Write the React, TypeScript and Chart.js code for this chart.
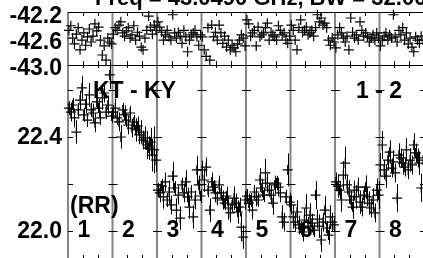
import React, { useEffect, useRef } from "react";
import { Chart, registerables } from "chart.js";

Chart.register(...registerables);

const titleText = "Freq = 43.0490 GHz, BW = 32.00 MHz";
const segmentLabels = ["1", "2", "3", "4", "5", "6", "7", "8"];
const baselineLeft = "KT - KY";
const baselineRight = "1 - 2";
const polLabel = "(RR)";
const topTickValues = [-42.2, -42.6, -43.0];
const topTickLabels = ["-42.2", "-42.6", "-43.0"];
const botTickValues = [22.0, 22.2, 22.4, 22.6];
const botTickLabels = ["22.0", "", "22.4", ""];

// Upper panel per segment
const top1 = [-42.42, -42.35, -42.54, -42.63, -42.48, -42.38, -42.72, -42.57, -42.46, -42.65, -42.52, -42.40, -42.60, -42.51, -42.32, -42.43, -42.37, -42.57, -42.80, -42.66, -42.88, -42.54, -42.60, -42.63];
const top2 = [-42.48, -42.38, -42.42, -42.34, -42.29, -42.46, -42.51, -42.43, -42.38, -42.54, -42.49, -42.35, -42.57, -42.45, -42.51, -42.68, -42.72, -42.54, -42.42, -42.20, -42.37, -42.48, -42.34, -42.42];
const top3 = [-42.29, -42.37, -42.45, -42.57, -42.49, -42.42, -42.52, -42.57, -42.18, -42.46, -42.54, -42.45, -42.51, -42.62, -42.42, -42.52, -42.75, -42.57, -42.49, -42.46, -42.42, -42.52, -42.65, -42.49];
const top4 = [-42.52, -42.72, -42.82, -42.38, -42.88, -42.34, -42.52, -42.45, -42.57, -42.34, -42.46, -42.62, -42.51, -42.68, -42.57, -42.72, -42.65, -42.69, -42.75, -42.63, -42.57, -42.49, -42.54, -42.66];
const top5 = [-42.26, -42.32, -42.51, -42.46, -42.42, -42.66, -42.37, -42.52, -42.49, -42.46, -42.38, -42.31, -42.57, -42.45, -42.49, -42.52, -42.57, -42.35, -42.42, -42.49, -42.46, -42.57, -42.62, -42.51];
const top6 = [-42.34, -42.42, -42.57, -42.72, -42.38, -42.26, -42.45, -42.42, -42.37, -42.49, -42.46, -42.42, -42.51, -42.38, -42.18, -42.29, -42.23, -42.34, -42.31, -42.38, -42.57, -42.65, -42.54, -42.60];
const top7 = [-42.69, -42.49, -42.38, -42.46, -42.54, -42.60, -42.51, -42.72, -42.23, -42.45, -42.54, -42.49, -42.57, -42.29, -42.42, -42.51, -42.46, -42.52, -42.60, -42.54, -42.49, -42.57, -42.46, -42.54];
const top8 = [-42.66, -42.57, -42.51, -42.46, -42.57, -42.49, -42.54, -42.18, -42.52, -42.60, -42.42, -42.49, -42.38, -42.57, -42.46, -42.63, -42.54, -42.68, -42.75, -42.52, -42.57, -42.62, -42.51, -42.57];

// Lower panel per segment
const bot1 = [22.523, 22.506, 22.536, 22.481, 22.421, 22.515, 22.557, 22.609, 22.494, 22.540, 22.472, 22.579, 22.515, 22.502, 22.460, 22.549, 22.523, 22.481, 22.566, 22.587, 22.506, 22.536, 22.664, 22.489];
const bot2 = [22.506, 22.523, 22.481, 22.464, 22.400, 22.515, 22.494, 22.472, 22.451, 22.502, 22.438, 22.464, 22.430, 22.447, 22.409, 22.421, 22.387, 22.396, 22.366, 22.353, 22.379, 22.323, 22.345, 22.302];
const bot3 = [22.174, 22.162, 22.191, 22.145, 22.209, 22.132, 22.166, 22.111, 22.234, 22.183, 22.089, 22.153, 22.055, 22.196, 22.162, 22.209, 22.145, 22.102, 22.166, 22.060, 22.132, 22.260, 22.196, 22.149];
const bot4 = [22.260, 22.217, 22.272, 22.174, 22.089, 22.209, 22.187, 22.162, 22.140, 22.196, 22.162, 22.132, 22.119, 22.149, 22.098, 22.077, 22.111, 22.140, 22.119, 22.081, 22.102, 22.017, 21.974, 22.132];
const bot5 = [22.149, 22.119, 22.132, 22.089, 22.166, 22.145, 22.132, 22.217, 22.183, 22.153, 22.247, 22.204, 22.174, 22.153, 22.119, 22.196, 22.204, 22.187, 22.162, 22.060, 22.038, 22.145, 22.260, 22.123];
const bot6 = [22.111, 22.060, 22.038, 22.081, 22.026, 22.013, 21.996, 22.047, 22.098, 22.021, 22.068, 22.034, 22.004, 22.153, 22.051, 22.021, 21.962, 22.038, 22.089, 22.013, 21.983, 22.060, 22.038, 22.026];
const bot7 = [22.209, 22.191, 22.174, 22.132, 22.238, 22.289, 22.196, 22.166, 22.132, 22.102, 22.174, 22.145, 22.187, 22.123, 22.102, 22.153, 22.187, 22.145, 22.119, 22.098, 22.132, 22.077, 22.174, 22.153];
const bot8 = [22.281, 22.366, 22.260, 22.234, 22.302, 22.336, 22.268, 22.294, 22.247, 22.140, 22.323, 22.311, 22.289, 22.272, 22.345, 22.260, 22.302, 22.281, 22.366, 22.332, 22.311, 22.289, 22.183, 22.302];

// Lower panel error bars (half length)
const err1 = [0.03, 0.04, 0.03, 0.04, 0.05, 0.03, 0.04, 0.05, 0.03, 0.04, 0.03, 0.05, 0.03, 0.04, 0.04, 0.03, 0.04, 0.03, 0.05, 0.04, 0.03, 0.04, 0.06, 0.03];
const err2 = [0.03, 0.04, 0.03, 0.04, 0.05, 0.03, 0.04, 0.03, 0.04, 0.03, 0.04, 0.03, 0.05, 0.04, 0.04, 0.05, 0.04, 0.05, 0.06, 0.05, 0.06, 0.07, 0.10, 0.05];
const err3 = [0.03, 0.04, 0.03, 0.05, 0.04, 0.03, 0.05, 0.04, 0.06, 0.03, 0.05, 0.04, 0.05, 0.03, 0.04, 0.05, 0.04, 0.05, 0.03, 0.05, 0.04, 0.06, 0.04, 0.03];
const err4 = [0.04, 0.05, 0.04, 0.03, 0.05, 0.04, 0.03, 0.04, 0.03, 0.04, 0.03, 0.04, 0.03, 0.04, 0.05, 0.04, 0.03, 0.05, 0.04, 0.05, 0.04, 0.06, 0.05, 0.04];
const err5 = [0.03, 0.04, 0.03, 0.04, 0.03, 0.04, 0.03, 0.05, 0.04, 0.03, 0.06, 0.04, 0.03, 0.04, 0.05, 0.04, 0.03, 0.04, 0.04, 0.05, 0.04, 0.03, 0.07, 0.04];
const err6 = [0.04, 0.05, 0.04, 0.05, 0.04, 0.03, 0.04, 0.05, 0.06, 0.04, 0.05, 0.04, 0.03, 0.06, 0.04, 0.05, 0.05, 0.04, 0.06, 0.03, 0.04, 0.05, 0.04, 0.03];
const err7 = [0.04, 0.05, 0.04, 0.05, 0.06, 0.07, 0.04, 0.05, 0.04, 0.05, 0.04, 0.05, 0.04, 0.05, 0.04, 0.04, 0.05, 0.04, 0.05, 0.04, 0.05, 0.04, 0.05, 0.06];
const err8 = [0.05, 0.06, 0.04, 0.05, 0.04, 0.05, 0.04, 0.05, 0.04, 0.06, 0.05, 0.04, 0.05, 0.04, 0.05, 0.04, 0.05, 0.04, 0.05, 0.04, 0.04, 0.05, 0.06, 0.04];

const topSeries = [top1, top2, top3, top4, top5, top6, top7, top8];
const botSeries = [bot1, bot2, bot3, bot4, bot5, bot6, bot7, bot8];
const errSeries = [err1, err2, err3, err4, err5, err6, err7, err8];

function toPoints(series: number[][]) {
  const pts: { x: number; y: number }[] = [];
  series.forEach((vals, s) => {
    vals.forEach((v, j) => pts.push({ x: s + (j + 0.5) / vals.length, y: v }));
  });
  return pts;
}

const FONT = 'bold 23px "Liberation Sans", Arial, sans-serif';
const TITLE_FONT = 'bold 22px "Liberation Sans", Arial, sans-serif';
const GRAY = "#858585";

const framePlugin = {
  id: "framePlugin",
  beforeDatasetsDraw(chart: any) {
    const { ctx, chartArea, scales } = chart;
    const xs = scales.x;
    const yt = scales.yTop;
    const yb = scales.yBot;
    const nSeg = segmentLabels.length;
    ctx.save();

    // dividers
    ctx.strokeStyle = GRAY;
    ctx.lineWidth = 2;
    for (let i = 0; i <= nSeg; i++) {
      const x = xs.getPixelForValue(i);
      ctx.beginPath();
      ctx.moveTo(x, chartArea.top);
      ctx.lineTo(x, chartArea.bottom);
      ctx.stroke();
    }

    // horizontal frame lines
    ctx.strokeStyle = "#000";
    ctx.lineWidth = 1;
    const left = xs.getPixelForValue(0);
    const right = xs.getPixelForValue(nSeg);
    [chartArea.top + 0.5, yt.bottom + 0.5, chartArea.bottom - 0.5].forEach((y) => {
      ctx.beginPath();
      ctx.moveTo(left, y);
      ctx.lineTo(right, y);
      ctx.stroke();
    });

    // x minor ticks
    for (let i = 0; i < nSeg; i++) {
      for (let k = 1; k <= 2; k++) {
        const x = Math.round(xs.getPixelForValue(i + k / 3)) + 0.5;
        ctx.beginPath();
        ctx.moveTo(x, chartArea.top);
        ctx.lineTo(x, chartArea.top + 4);
        ctx.moveTo(x, yt.bottom - 4);
        ctx.lineTo(x, yt.bottom + 3);
        ctx.moveTo(x, chartArea.bottom);
        ctx.lineTo(x, chartArea.bottom - 5);
        ctx.stroke();
      }
    }

    // y ticks on lower panel at each divider
    for (let i = 0; i <= nSeg; i++) {
      const x = xs.getPixelForValue(i);
      botTickValues.forEach((v) => {
        const y = Math.round(yb.getPixelForValue(v)) + 0.5;
        ctx.beginPath();
        ctx.moveTo(i === 0 ? x : x - 4, y);
        ctx.lineTo(x + 5, y);
        ctx.stroke();
      });
    }

    // tick labels
    ctx.fillStyle = "#000";
    ctx.font = FONT;
    ctx.textAlign = "right";
    ctx.textBaseline = "middle";
    topTickValues.forEach((v, i) => {
      ctx.fillText(topTickLabels[i], 62, yt.getPixelForValue(v) + 1);
    });
    botTickValues.forEach((v, i) => {
      if (botTickLabels[i]) ctx.fillText(botTickLabels[i], 62, yb.getPixelForValue(v) + 1);
    });

    // annotations
    ctx.textBaseline = "alphabetic";
    ctx.textAlign = "left";
    ctx.fillText(baselineLeft, 93, 98);
    ctx.fillText(baselineRight, 356, 98);
    ctx.fillText(polLabel, 70, 213);
    ctx.textAlign = "center";
    segmentLabels.forEach((lab, i) => {
      ctx.fillText(lab, xs.getPixelForValue(i + 0.36), 237);
    });
    ctx.textAlign = "left";
    ctx.font = TITLE_FONT;
    ctx.fillText(titleText, 95, 5);

    // error bars
    const meta = chart.getDatasetMeta(1);
    const flatVals = botSeries.flat();
    const flatErr = errSeries.flat();
    ctx.strokeStyle = "#000";
    ctx.lineWidth = 1;
    meta.data.forEach((el: any, i: number) => {
      const v = flatVals[i];
      const e = flatErr[i];
      const x = Math.round(el.x) + 0.5;
      ctx.beginPath();
      ctx.moveTo(x, yb.getPixelForValue(v - e));
      ctx.lineTo(x, yb.getPixelForValue(v + e));
      ctx.stroke();
    });

    ctx.restore();
  },
};

export default function App() {
  const ref = useRef<HTMLCanvasElement | null>(null);
  useEffect(() => {
    if (!ref.current) return;
    const chart = new Chart(ref.current, {
      type: "scatter",
      data: {
        datasets: [
          {
            data: toPoints(topSeries),
            yAxisID: "yTop",
            pointStyle: "cross",
            pointRadius: 5,
            borderColor: "#000",
            backgroundColor: "#000",
            borderWidth: 1.2,
          },
          {
            data: toPoints(botSeries),
            yAxisID: "yBot",
            pointStyle: "cross",
            pointRadius: 5,
            borderColor: "#000",
            backgroundColor: "#000",
            borderWidth: 1.2,
          },
        ],
      },
      options: {
        animation: false,
        responsive: false,
        maintainAspectRatio: false,
        devicePixelRatio: 1,
        clip: false as any,
        layout: { padding: { top: 12, right: 8, bottom: 10, left: 0 } },
        plugins: { legend: { display: false }, tooltip: { enabled: false }, title: { display: false } },
        events: [],
        scales: {
          x: { type: "linear", min: 0, max: 8, display: false },
          yTop: {
            type: "linear",
            position: "left",
            stack: "panels",
            stackWeight: 53,
            weight: 2,
            min: -42.954,
            max: -42.138,
            grid: { display: false },
            border: { display: false },
            ticks: { display: false },
            afterFit: (s: any) => {
              s.width = 68;
            },
          },
          yBot: {
            type: "linear",
            position: "left",
            stack: "panels",
            stackWeight: 195,
            weight: 1,
            min: 21.877,
            max: 22.706,
            grid: { display: false },
            border: { display: false },
            ticks: { display: false },
            afterFit: (s: any) => {
              s.width = 68;
            },
          },
        } as any,
      },
      plugins: [framePlugin],
    });
    return () => chart.destroy();
  }, []);
  return (
    <div
      style={{
        position: "fixed",
        left: 0,
        top: 0,
        width: 423,
        height: 258,
        overflow: "hidden",
        background: "#fff",
      }}
    >
      <canvas ref={ref} width={432} height={270} style={{ display: "block", width: 432, height: 270 }} />
    </div>
  );
}
